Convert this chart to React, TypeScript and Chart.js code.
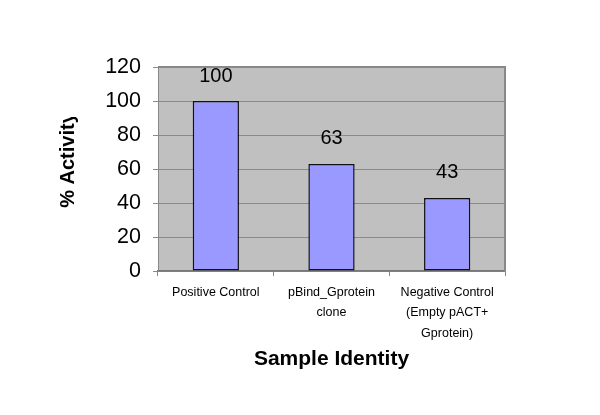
import React, { useEffect, useRef } from "react";
import { Chart, registerables } from "chart.js";

Chart.register(...registerables);

const categories: (string | string[])[] = [
  "Positive Control",
  ["pBind_Gprotein", "clone"],
  ["Negative Control", "(Empty pACT+", "Gprotein)"],
];
const activityValues: number[] = [100, 63, 43];
const yTicks: number[] = [0, 20, 40, 60, 80, 100, 120];
const xTitle = "Sample Identity";
const yTitle = "% Activity";

const plotBgPlugin = {
  id: "plotBg",
  beforeDraw(chart: any) {
    const { ctx, chartArea: a } = chart;
    ctx.save();
    ctx.fillStyle = "#C0C0C0";
    ctx.fillRect(a.left, a.top, a.right - a.left, a.bottom - a.top);
    ctx.restore();
  },
  beforeDatasetsDraw(chart: any) {
    const { ctx, chartArea: a } = chart;
    ctx.save();
    ctx.strokeStyle = "#888888";
    ctx.lineWidth = 2;
    ctx.beginPath();
    ctx.moveTo(a.left, a.top);
    ctx.lineTo(a.right, a.top);
    ctx.lineTo(a.right, a.bottom);
    ctx.stroke();
    ctx.restore();
  },
  afterDatasetsDraw(chart: any) {
    const { ctx } = chart;
    const meta = chart.getDatasetMeta(0);
    ctx.save();
    ctx.fillStyle = "#000";
    ctx.font = "20px Arial, 'Liberation Sans', sans-serif";
    ctx.textAlign = "center";
    ctx.textBaseline = "middle";
    meta.data.forEach((bar: any, i: number) => {
      const v = chart.data.datasets[0].data[i];
      ctx.fillText(String(v), bar.x, bar.y - 25);
    });
    ctx.restore();
  },
  afterDraw(chart: any) {
    const { ctx } = chart;
    ctx.save();
    ctx.beginPath();
    ctx.rect(0, 117, 150, 250);
    ctx.clip();
    ctx.translate(68, 160);
    ctx.rotate(-Math.PI / 2);
    ctx.fillStyle = "#000";
    ctx.font = "bold 20px Arial, 'Liberation Sans', sans-serif";
    ctx.textAlign = "center";
    ctx.textBaseline = "middle";
    ctx.fillText(yTitle, 0, 0);
    ctx.restore();
  },
};

export default function App() {
  const ref = useRef<HTMLCanvasElement | null>(null);
  useEffect(() => {
    if (!ref.current) return;
    const chart = new Chart(ref.current, {
      type: "bar",
      data: {
        labels: categories,
        datasets: [
          {
            data: activityValues,
            backgroundColor: "#9999FF",
            borderColor: "#111111",
            borderWidth: 1.5,
            borderSkipped: false,
            barPercentage: 0.4,
            categoryPercentage: 1,
          },
        ],
      },
      options: {
        responsive: false,
        animation: false,
        devicePixelRatio: 1,
        layout: { padding: { top: 67, right: 95, left: 0, bottom: 0 } },
        plugins: {
          legend: { display: false },
          tooltip: { enabled: false },
          title: { display: false },
        },
        scales: {
          x: {
            afterFit(scale: any) {
              scale.height = 144;
            },
            grid: {
              drawOnChartArea: false,
              drawTicks: true,
              tickLength: 5,
              color: "#888888",
              offset: true,
            },
            border: { display: true, color: "#777777", width: 1.5 },
            ticks: {
              color: "#000",
              padding: 6,
              maxRotation: 0,
              autoSkip: false,
              font: { family: "Arial, 'Liberation Sans', sans-serif", size: 12.5, lineHeight: 1.65 },
            },
            title: {
              display: true,
              text: xTitle,
              color: "#000",
              font: { family: "Arial, 'Liberation Sans', sans-serif", size: 21, weight: "bold", lineHeight: 1.2 },
              padding: { top: 0, bottom: 43 },
            },
          },
          y: {
            min: 0,
            max: 120,
            afterFit(scale: any) {
              scale.width = 158;
            },
            afterBuildTicks(scale: any) {
              scale.ticks = yTicks.map((v) => ({ value: v }));
            },
            grid: {
              color: "#8a8a8a",
              lineWidth: 1,
              tickLength: 5,
              drawTicks: true,
            },
            border: { display: true, color: "#888888", width: 1 },
            ticks: {
              color: "#000",
              padding: 12,
              font: { family: "Arial, 'Liberation Sans', sans-serif", size: 21.5 },
            },
          },
        },
      },
      plugins: [plotBgPlugin],
    } as any);
    return () => chart.destroy();
  }, []);
  return (
    <div style={{ position: "absolute", left: 0, top: 0, width: 600, height: 415, background: "#fff" }}>
      <canvas ref={ref} width={600} height={415} />
    </div>
  );
}
